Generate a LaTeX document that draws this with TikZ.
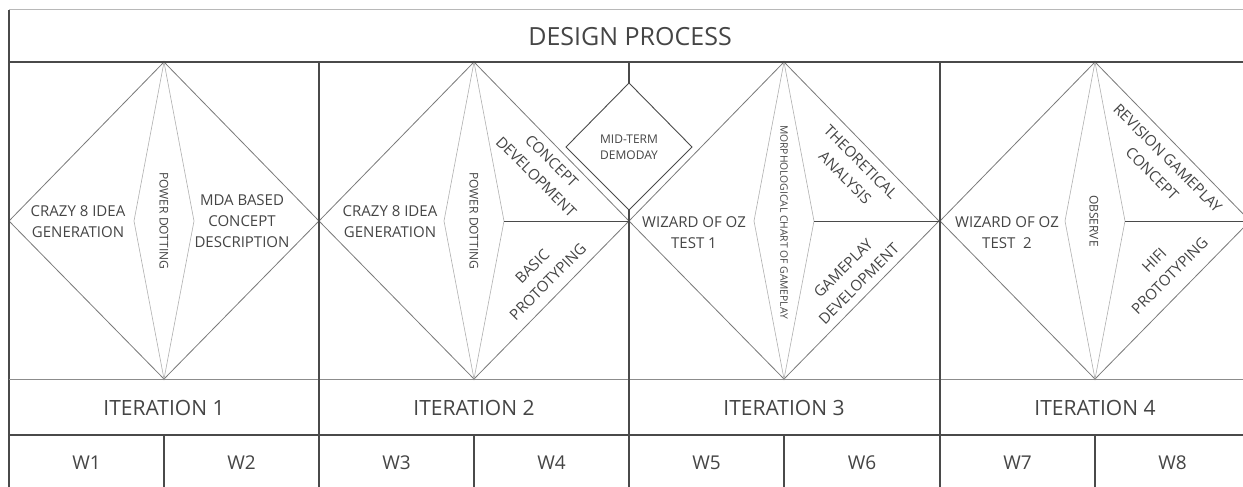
\documentclass[tikz,border=0pt]{standalone}
\usepackage{fontspec}
\setmainfont{Open Sans}
\definecolor{txt}{HTML}{454545}
\definecolor{frameC}{HTML}{4A4A4A}
\definecolor{topC}{HTML}{B8B8B8}
\definecolor{midC}{HTML}{8C8C8C}
\definecolor{diaC}{HTML}{7A7A7A}
\definecolor{lensC}{HTML}{B0B0B0}
\begin{document}
\begin{tikzpicture}[x=1pt,y=-1pt,
  framel/.style={draw=frameC,line width=1.1pt},
  thickl/.style={draw=frameC,line width=1.6pt},
  midl/.style={draw=midC,line width=0.8pt},
  topl/.style={draw=topC,line width=1pt},
  dia/.style={draw=diaC,line width=0.8pt},
  lensl/.style={draw=lensC,line width=0.6pt},
  lbl/.style={text=txt,inner sep=0pt,align=center,font=\fontsize{15}{21}\selectfont},
  vlbl/.style={text=txt,inner sep=0pt,rotate=-90,font=\fontsize{12}{14}\selectfont},
  tinylbl/.style={text=txt,inner sep=0pt,rotate=-90,font=\fontsize{10.3}{12}\selectfont},
  dlbl/.style={text=txt,inner sep=0pt,align=center,font=\fontsize{15}{22}\selectfont},
  midlbl/.style={text=txt,inner sep=0pt,align=center,font=\fontsize{12}{16}\selectfont},
  itlbl/.style={text=txt,inner sep=0pt,font=\fontsize{21}{24}\selectfont},
  wlbl/.style={text=txt,inner sep=0pt,font=\fontsize{19}{22}\selectfont},
  titlbl/.style={text=txt,inner sep=0pt,font=\fontsize{25}{28}\selectfont}]
\useasboundingbox (0,0) rectangle (1243,487);
\clip (0,0) rectangle (1243,487);
\fill[white] (0,0) rectangle (1243,487);

% diamond vertices
\foreach \i/\L in {1/9,2/319,3/629,4/940} {
  \pgfmathsetmacro\A{\L+155}
  \pgfmathsetmacro\R{\L+310}
  \coordinate (top\i) at (\A,62);
  \coordinate (bot\i) at (\A,379);
  \coordinate (lft\i) at (\L,221);
  \coordinate (rgt\i) at (\R,221);
  \coordinate (ll\i) at (\A-30,221);
  \coordinate (lr\i) at (\A+30,221);
  \coordinate (wtop\i) at (\A,435);
  \coordinate (wbot\i) at (\A,487);
}
\foreach \i in {1,2,3,4} {
  \draw[dia] (top\i) -- (lft\i) -- (bot\i) -- (rgt\i) -- cycle;
  \draw[lensl] (top\i) -- (ll\i) -- (bot\i) -- (lr\i) -- cycle;
}
\foreach \i in {2,3,4} {
  \draw[framel,line width=0.9pt] (lr\i) -- (rgt\i);
}

% frame
\coordinate (tl) at (9,10);
\coordinate (tr) at (1243,10);
\coordinate (hl) at (9,62);
\coordinate (hr) at (1243,62);
\coordinate (il) at (9,379);
\coordinate (ir) at (1243,379);
\coordinate (wl) at (9,435);
\coordinate (wr) at (1243,435);
\coordinate (bl) at (9,487);
\draw[topl] (tl) -- (tr);
\draw[framel] (tl) -- (bl);
\draw[framel] (hl) -- (hr);
\draw[midl] (il) -- (ir);
\draw[thickl] (wl) -- (wr);
\foreach \x in {319,629,940} {
  \draw[framel] (\x,62) coordinate (c\x) -- (\x,487) coordinate (d\x);
}
\foreach \i in {1,2,3,4} {
  \draw[framel] (wtop\i) -- (wbot\i);
}

% mid-term diamond
\coordinate (mt) at (629,83);
\coordinate (ml) at (566,147);
\coordinate (mb) at (629,210);
\coordinate (mr) at (692,147);
\filldraw[fill=white,draw=frameC,line width=0.9pt] (mt) -- (ml) -- (mb) -- (mr) -- cycle;
\node[midlbl] (midterm) at (629,147) {MID-TERM\\DEMODAY};

% title
\node[titlbl] (title) at (630,37) {DESIGN PROCESS};

% diamond 1
\node[lbl] (crazy1) at (78,221.5) {CRAZY 8 IDEA\\GENERATION};
\node[vlbl] (power1) at (164,221) {POWER DOTTING};
\node[lbl] (mda) at (242,221.5) {MDA BASED\\CONCEPT\\DESCRIPTION};

% diamond 2
\node[lbl] (crazy2) at (390,221.5) {CRAZY 8 IDEA\\GENERATION};
\node[vlbl] (power2) at (474,221) {POWER DOTTING};
\node[dlbl,rotate=-45] (concdev) at (544,169) {CONCEPT\\DEVELOPMENT};
\node[dlbl,rotate=45] (basic) at (540,274) {BASIC\\PROTOTYPING};

% diamond 3
\node[lbl] (wiz1) at (694,232.5) {WIZARD OF OZ\\TEST 1};
\node[tinylbl] (morph) at (784,222) {MORPHOLOGICAL CHART OF GAMEPLAY};
\node[dlbl,rotate=-45] (theo) at (853,170) {THEORETICAL\\ANALYSIS};
\node[dlbl,rotate=45] (gamedev) at (851,276) {GAMEPLAY\\DEVELOPMENT};

% diamond 4
\node[lbl] (wiz2) at (1007,232.5) {WIZARD OF OZ\\TEST\ \ 2};
\node[vlbl] (observe) at (1094,221) {OBSERVE};
\node[dlbl,rotate=-45] (revision) at (1160,166) {REVISION GAMEPLAY\\CONCEPT};
\node[dlbl,rotate=45] (hifi) at (1162,268) {HIFI\\PROTOTYPING};

% iterations
\node[itlbl] (it1) at (164,408) {ITERATION 1};
\node[itlbl] (it2) at (474,408) {ITERATION 2};
\node[itlbl] (it3) at (784,408) {ITERATION 3};
\node[itlbl] (it4) at (1095,408) {ITERATION 4};

% weeks
\node[wlbl] (w1) at (86.5,463) {W1};
\node[wlbl] (w2) at (241.5,463) {W2};
\node[wlbl] (w3) at (396.5,463) {W3};
\node[wlbl] (w4) at (551.5,463) {W4};
\node[wlbl] (w5) at (706.5,463) {W5};
\node[wlbl] (w6) at (862,463) {W6};
\node[wlbl] (w7) at (1017.5,463) {W7};
\node[wlbl] (w8) at (1172.5,463) {W8};
\end{tikzpicture}
\end{document}
